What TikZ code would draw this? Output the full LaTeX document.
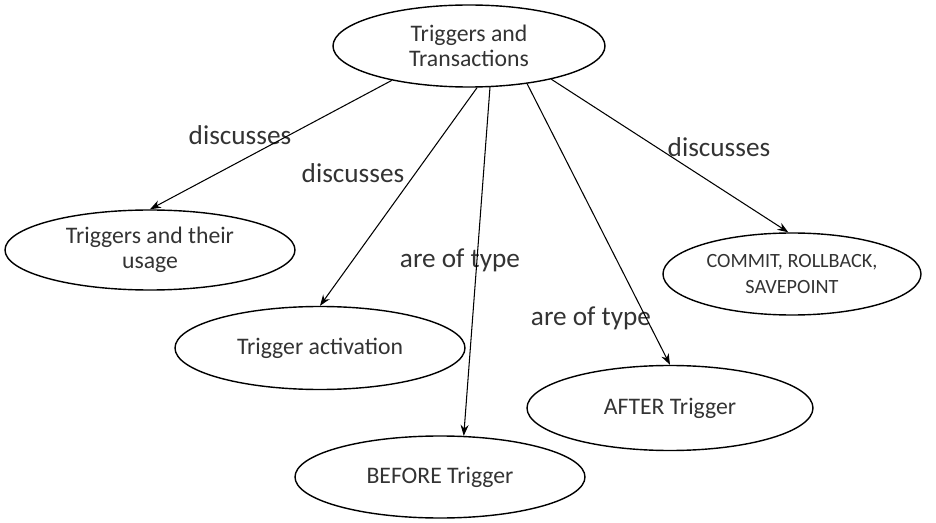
\documentclass[tikz,border=0pt]{standalone}
\usepackage{fontspec}
\setmainfont{Carlito}
\usetikzlibrary{shapes.geometric,arrows.meta}

\begin{document}
\begin{tikzpicture}[n/.style={ellipse,draw=black,line width=0.8pt,inner sep=0pt,align=center,
            text=black!80,font=\fontsize{13.5}{14.5}\selectfont},
            lbl/.style={text=black!80,font=\fontsize{15.5}{17}\selectfont},
            arr/.style={-{Stealth[length=2.2mm,width=1.6mm]},line width=0.6pt}]
            \useasboundingbox (0,0) rectangle (18.72,10.44);

            \node[n,minimum width=5.44cm,minimum height=1.64cm] (tt) at (9.38,9.52) {Triggers and\\Transactions};
            \node[n,minimum width=5.8cm,minimum height=1.6cm] (usage) at (3.0,5.44) {Triggers and their\\usage};
            \node[n,minimum width=5.8cm,minimum height=1.66cm] (act) at (6.4,3.48) {Trigger activation};
            \node[n,minimum width=5.8cm,minimum height=1.64cm] (before) at (8.8,0.9) {BEFORE Trigger};
            \node[n,minimum width=5.72cm,minimum height=1.7cm] (after) at (13.4,2.28) {AFTER Trigger};
            \node[n,minimum width=5.16cm,minimum height=1.64cm,font=\fontsize{11.5}{14.5}\selectfont] (commit) at (15.84,4.96) {COMMIT, ROLLBACK,\\SAVEPOINT};

            \node[lbl] (l1) at (4.8,7.74) {discusses};
            \node[lbl] (l2) at (7.06,6.98) {discusses};
            \node[lbl] (l3) at (9.2,5.24) {are of type};
            \node[lbl] (l4) at (11.82,4.08) {are of type};
            \node[lbl] (l5) at (14.38,7.5) {discusses};

            \draw[arr] (tt.204) to (usage.north);
            \draw[arr] (tt.281) to (act.north);
            \draw[arr] (tt.297) to (before.60);
            \draw[arr] (tt.327) to (after.north);
            \draw[arr] (tt.338) to (commit.95);
        \end{tikzpicture}
\end{document}
